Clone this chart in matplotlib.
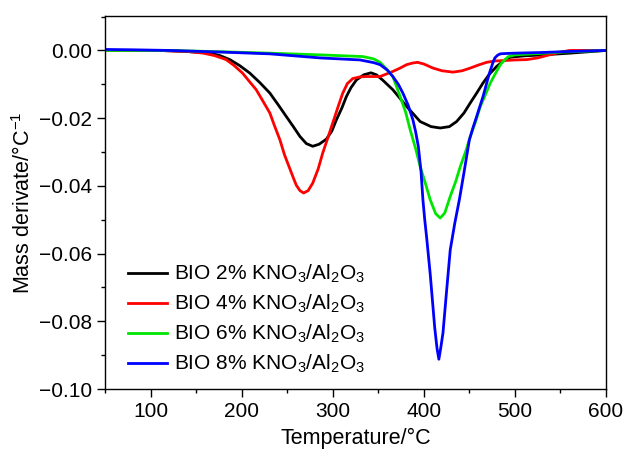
import numpy as np
import matplotlib.pyplot as plt
from matplotlib.ticker import MultipleLocator, FuncFormatter

plt.rcParams['font.family'] = ['Liberation Sans', 'DejaVu Sans']
plt.rcParams['mathtext.default'] = 'regular'

# DTG curves (temperature in °C, mass derivate in 1/°C)
t_2 = [50, 80, 110, 140, 155, 165, 176, 187, 198, 209, 220, 231, 240, 249, 257, 264, 271,
       278, 285, 293, 299, 304, 310, 315, 320, 326, 334, 342, 348, 355, 366, 381, 396,
       408, 418, 428, 436, 444, 451, 458, 465, 472, 480, 488, 495, 510, 531, 560, 600]
v_2 = [0, 0, 0, -0.0003, -0.0006, -0.0008, -0.0015, -0.0027, -0.0045, -0.0067, -0.0095,
       -0.0126, -0.0160, -0.0195, -0.0226, -0.0254, -0.0275, -0.0283, -0.0277, -0.0262,
       -0.0238, -0.0205, -0.0170, -0.0136, -0.0110, -0.0087, -0.0072, -0.0066, -0.0072,
       -0.0088, -0.0116, -0.0165, -0.0210, -0.0225, -0.0229, -0.0225, -0.0210, -0.0185,
       -0.0155, -0.0126, -0.0096, -0.0070, -0.0047, -0.0030, -0.0020, -0.0016, -0.0013,
       -0.0008, 0]

t_4 = [50, 80, 110, 140, 158, 170, 183, 192, 201, 208, 216, 223, 231, 236, 242, 247, 253,
       257, 260, 264, 268, 273, 278, 284, 289, 295, 300, 306, 311, 316, 322, 330, 337,
       352, 366, 374, 381, 388, 393, 400, 410, 420, 432, 442, 451, 460, 469, 478, 487,
       500, 513, 525, 535, 548, 560, 600]
v_4 = [0, 0, 0, -0.0003, -0.0008, -0.0015, -0.0027, -0.0045, -0.0067, -0.0090, -0.0116,
       -0.0148, -0.0185, -0.0222, -0.0264, -0.0308, -0.0350, -0.0378, -0.0398, -0.0414,
       -0.0421, -0.0414, -0.0392, -0.0350, -0.0303, -0.0255, -0.0214, -0.0165, -0.0126,
       -0.0098, -0.0083, -0.0078, -0.0077, -0.0077, -0.0062, -0.0052, -0.0042, -0.0037,
       -0.0035, -0.0040, -0.0052, -0.0060, -0.0064, -0.0060, -0.0052, -0.0043, -0.0035,
       -0.0031, -0.0030, -0.0028, -0.0027, -0.0022, -0.0015, -0.0006, 0, 0]

t_6 = [50, 80, 121, 180, 231, 286, 333, 345, 352, 358, 366, 374, 380, 385, 391, 396, 402,
       407, 413, 418, 423, 429, 435, 440, 446, 451, 457, 462, 468, 473, 479, 484, 489,
       493, 500, 520, 550, 600]
v_6 = [0, 0, 0, -0.0004, -0.0008, -0.0013, -0.0018, -0.0025, -0.0035, -0.0052, -0.0077,
       -0.0136, -0.0182, -0.0234, -0.0290, -0.0343, -0.0395, -0.0441, -0.0482, -0.0495,
       -0.0480, -0.0431, -0.0387, -0.0343, -0.0298, -0.0254, -0.0209, -0.0165, -0.0128,
       -0.0096, -0.0066, -0.0042, -0.0027, -0.0018, -0.0013, -0.0010, -0.0005, 0]

t_8 = [50, 80, 121, 180, 231, 286, 330, 345, 352, 360, 366, 372, 377, 383, 388, 391, 394,
       397, 399, 401, 403, 407, 412, 414.5, 416.5, 418.5, 421, 425, 429, 434, 439, 444,
       450, 454, 458, 465, 472, 476, 478, 481, 484, 490, 500, 530, 560, 600]
v_8 = [0.0003, 0.0002, 0, -0.0005, -0.0010, -0.0022, -0.0028, -0.0036, -0.0042, -0.0058,
       -0.0077, -0.0100, -0.0126, -0.0163, -0.0205, -0.0240, -0.0284, -0.0360, -0.0441,
       -0.0500, -0.0550, -0.0660, -0.0820, -0.0880, -0.0912, -0.0880, -0.0835, -0.0710,
       -0.0589, -0.0510, -0.0441, -0.0362, -0.0264, -0.0228, -0.0195, -0.0136, -0.0067,
       -0.0035, -0.0022, -0.0014, -0.0010, -0.0009, -0.0008, -0.0006, -0.0003, 0]

labels = ['BIO 2% KNO$_3$/Al$_2$O$_3$', 'BIO 4% KNO$_3$/Al$_2$O$_3$',
          'BIO 6% KNO$_3$/Al$_2$O$_3$', 'BIO 8% KNO$_3$/Al$_2$O$_3$']
colors = ['#000000', '#ff0000', '#00e600', '#0000ff']


def fmt_y(y, pos):
    if abs(y) < 1e-9:
        y = 0.0
    return f'{y:.2f}'.replace('-', '\u2212')


fig = plt.figure(figsize=(6.27, 4.55), dpi=100)
ax = fig.add_axes([0.1675, 0.145, 0.799, 0.820])

for t, v, lab, c in zip([t_2, t_4, t_6, t_8], [v_2, v_4, v_6, v_8], labels, colors):
    ax.plot(t, v, color=c, lw=2.0, label=lab)

ax.set_xlim(50, 600)
ax.set_ylim(-0.10, 0.0102)
ax.xaxis.set_major_locator(MultipleLocator(100))
ax.xaxis.set_minor_locator(MultipleLocator(50))
ax.yaxis.set_major_locator(MultipleLocator(0.02))
ax.yaxis.set_minor_locator(MultipleLocator(0.01))
ax.yaxis.set_major_formatter(FuncFormatter(fmt_y))
ax.tick_params(which='both', direction='out', width=1.0, labelsize=15, top=False, right=False)
ax.tick_params(which='major', length=5.5, pad=4)
ax.tick_params(which='minor', length=3)
for s in ax.spines.values():
    s.set_linewidth(1.0)

ax.set_xlabel('Temperature/°C', fontsize=15.5, labelpad=5)
ax.set_ylabel('Mass derivate/°C$^{\u22121}$', fontsize=15.5)
ax.yaxis.set_label_coords(-0.14, 0.5)

ax.legend(loc='upper left', bbox_to_anchor=(0.025, 0.366), frameon=False, fontsize=15,
          handlelength=1.85, handletextpad=0.35, labelspacing=0.37, borderpad=0)

fig.savefig('out.png', dpi=100)
